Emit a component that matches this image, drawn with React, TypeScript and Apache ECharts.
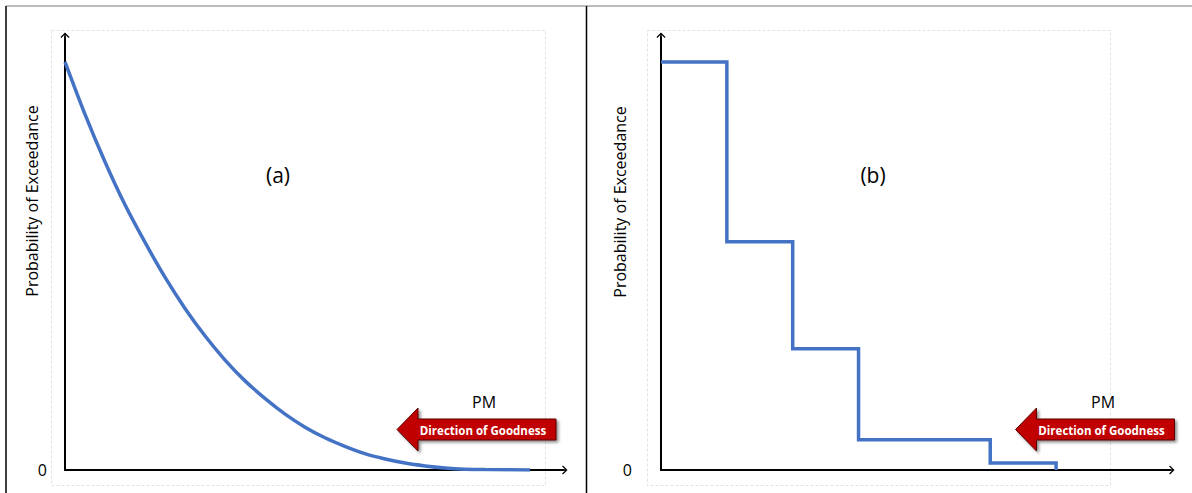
import React, { useEffect, useRef } from "react";
import * as echarts from "echarts";

// Panel (a): smooth decaying exceedance curve
const curveX = [0, 4, 8, 12, 16.1, 20.1, 24.1, 28.1, 32.1, 36.1, 40.2, 44.2, 48.2, 52.2, 56.2, 60.2, 64.3, 68.3, 72.3, 76.3, 80.3, 84.3, 93.4];
const curveY = [1.0, 0.872, 0.756, 0.651, 0.557, 0.472, 0.396, 0.329, 0.27, 0.219, 0.175, 0.137, 0.105, 0.079, 0.058, 0.04, 0.027, 0.017, 0.01, 0.005, 0.002, 0.001, 0];
// Panel (b): stepped exceedance curve
const stepX = [0, 1, 2, 3, 5, 6];
const stepY = [1.0, 0.559, 0.297, 0.074, 0.017, 0];

const panelLabels = ["(a)", "(b)"];
const yAxisTitle = "Probability of Exceedance";
const xAxisTitle = "PM";
const arrowText = "Direction of Goodness";
const zeroLabel = "0";

const FONT = "'Open Sans', 'Noto Sans', sans-serif";
const BLUE = "#4472C4";
const AXIS_ARROW = "path://M5,0 L10,5 L9,6 L5.8,2.8 L5.8,10 L4.2,10 L4.2,2.8 L1,6 L0,5 Z";

function goodnessArrow(dx: number) {
  const tipX = 397 + dx;
  const baseX = 418 + dx;
  const endX = 556 + dx;
  return [
    {
      type: "polygon",
      z: 10,
      shape: {
        points: [
          [tipX, 429.5],
          [baseX, 408],
          [baseX, 419],
          [endX, 419],
          [endX, 440],
          [baseX, 440],
          [baseX, 451],
        ],
      },
      style: {
        fill: "#C00000",
        stroke: "#5a0000",
        lineWidth: 1,
        shadowBlur: 3,
        shadowOffsetX: 2,
        shadowOffsetY: 2,
        shadowColor: "rgba(0,0,0,0.45)",
      },
    },
    {
      type: "text",
      z: 11,
      x: 483 + dx,
      y: 430,
      style: {
        text: arrowText,
        fill: "#ffffff",
        font: `bold 11.5px ${FONT}`,
        align: "center",
        verticalAlign: "middle",
      },
    },
  ];
}

export default function App() {
  const ref = useRef<HTMLDivElement>(null);

  useEffect(() => {
    document.body.style.margin = "0";
    if (!ref.current) return;
    const chart = echarts.init(ref.current, undefined, { renderer: "svg" });

    const yMax = 1.061;
    const axisLine = {
      show: true,
      lineStyle: { color: "#000", width: 2 },
      symbol: ["none", AXIS_ARROW],
      symbolSize: [11, 9],
    };

    const makeX = (gridIndex: number, max: number) => ({
      type: "value",
      gridIndex,
      min: 0,
      max,
      axisLine,
      axisTick: { show: false },
      axisLabel: { show: false },
      splitLine: { show: false },
    });

    const makeY = (gridIndex: number, margin: number) => ({
      type: "value",
      gridIndex,
      min: 0,
      max: yMax,
      interval: yMax,
      axisLine,
      axisTick: { show: false },
      splitLine: { show: false },
      axisLabel: {
        margin,
        color: "#000",
        fontSize: 16,
        fontFamily: FONT,
        padding: [0, 0, 7, 0],
        formatter: (v: number) => (v === 0 ? zeroLabel : ""),
      },
    });

    const option: any = {
      animation: false,
      backgroundColor: "#ffffff",
      grid: [
        { left: 65, top: 37, width: 498, height: 433 },
        { left: 661, top: 37, width: 509, height: 433 },
      ],
      xAxis: [makeX(0, 100), makeX(1, 7.73)],
      yAxis: [makeY(0, 18), makeY(1, 29)],
      series: [
        {
          type: "line",
          xAxisIndex: 0,
          yAxisIndex: 0,
          data: curveX.map((x, i) => [x, curveY[i]]),
          smooth: 0.3,
          symbol: "none",
          lineStyle: { color: BLUE, width: 3.5 },
          z: 5,
        },
        {
          type: "line",
          xAxisIndex: 1,
          yAxisIndex: 1,
          data: stepX.map((x, i) => [x, stepY[i]]),
          step: "end",
          symbol: "none",
          lineStyle: { color: BLUE, width: 3.5, join: "miter" },
          z: 5,
        },
      ],
      graphic: [
        // outer frame lines
        { type: "line", shape: { x1: 6, y1: 6, x2: 1192, y2: 6 }, style: { stroke: "#a6a6a6", lineWidth: 1.5 } },
        { type: "line", shape: { x1: 6, y1: 6, x2: 6, y2: 493 }, style: { stroke: "#000", lineWidth: 1.5 } },
        { type: "line", shape: { x1: 586.5, y1: 6, x2: 586.5, y2: 493 }, style: { stroke: "#000", lineWidth: 1.5 } },
        // plot-area dotted boxes
        { type: "rect", z: -1, shape: { x: 51.5, y: 30.5, width: 494, height: 455 }, style: { fill: "none", stroke: "#e2e2e2", lineWidth: 1, lineDash: [3, 2] } },
        { type: "rect", z: -1, shape: { x: 647.5, y: 30.5, width: 463, height: 455 }, style: { fill: "none", stroke: "#e2e2e2", lineWidth: 1, lineDash: [3, 2] } },
        // y-axis titles
        {
          type: "text",
          x: 32,
          y: 201,
          rotation: Math.PI / 2,
          style: { text: yAxisTitle, fill: "#000", font: `16px ${FONT}`, align: "center", verticalAlign: "middle" },
        },
        {
          type: "text",
          x: 620,
          y: 202,
          rotation: Math.PI / 2,
          style: { text: yAxisTitle, fill: "#000", font: `16px ${FONT}`, align: "center", verticalAlign: "middle" },
        },
        // panel labels
        { type: "text", x: 278, y: 175, style: { text: panelLabels[0], fill: "#000", font: `21px ${FONT}`, align: "center", verticalAlign: "middle" } },
        { type: "text", x: 873, y: 175, style: { text: panelLabels[1], fill: "#000", font: `21px ${FONT}`, align: "center", verticalAlign: "middle" } },
        // PM labels
        { type: "text", x: 484, y: 402, style: { text: xAxisTitle, fill: "#000", font: `16px ${FONT}`, align: "center", verticalAlign: "middle" } },
        { type: "text", x: 1103, y: 402, style: { text: xAxisTitle, fill: "#000", font: `16px ${FONT}`, align: "center", verticalAlign: "middle" } },
        ...goodnessArrow(0),
        ...goodnessArrow(618.5),
      ],
    };

    chart.setOption(option);
    return () => chart.dispose();
  }, []);

  return <div ref={ref} style={{ width: 1192, height: 493 }} />;
}
